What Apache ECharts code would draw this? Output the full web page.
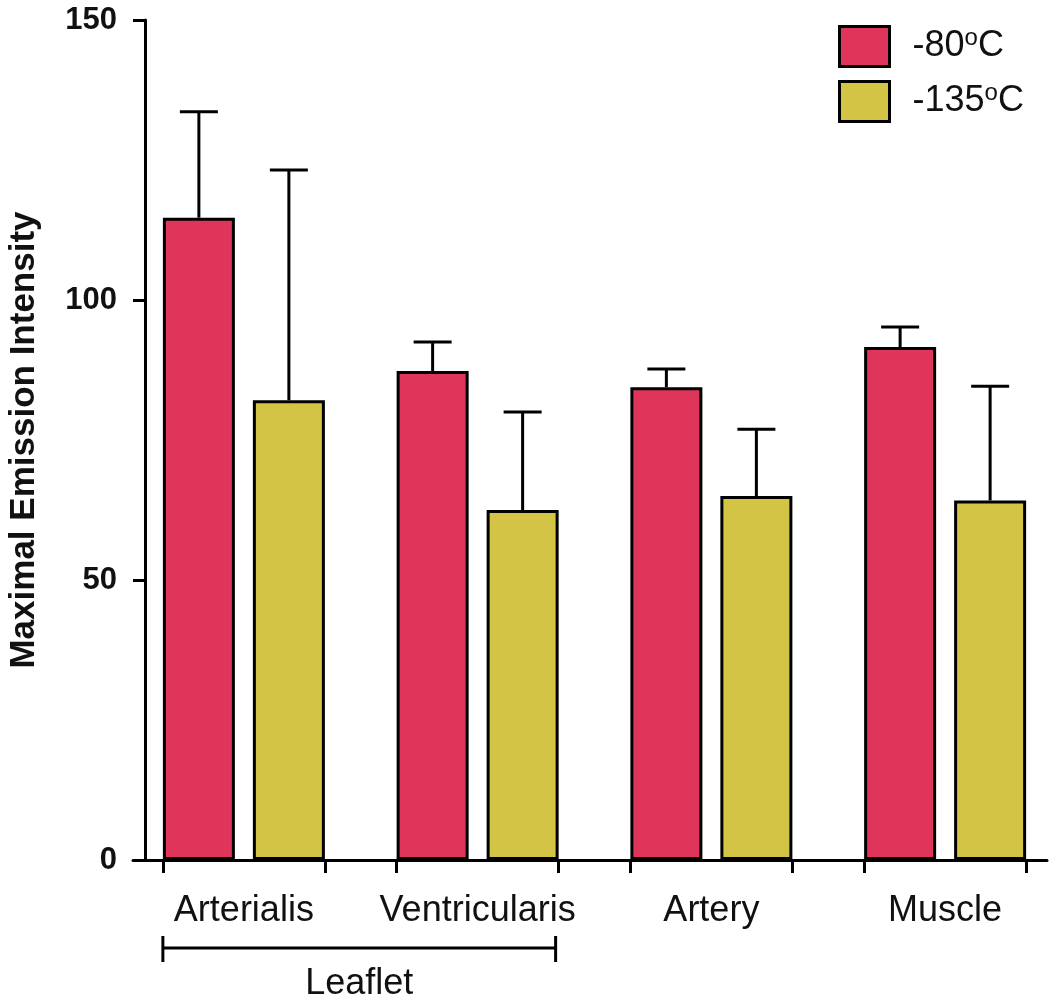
<!DOCTYPE html>
<html>
<head>
<meta charset="utf-8">
<script src="https://cdn.jsdelivr.net/npm/echarts@6/dist/echarts.min.js"></script>
<style>
  html, body { margin: 0; padding: 0; background: #fff; }
  #chart { width: 1050px; height: 1003px; }
</style>
</head>
<body>
<div id="chart"></div>
<script>
// tissue groups on the x axis
const categories = ['Arterialis', 'Ventricularis', 'Artery', 'Muscle']
// -80 C: bar height and top of the error bar
const mean80 = [114.7, 87.3, 84.4, 91.6]
const top80 = [133.6, 92.5, 87.7, 95.2]
// -135 C
const mean135 = [82.1, 62.5, 65.0, 64.2]
const top135 = [123.2, 80.0, 76.9, 84.6]
const yTicks = [0, 50, 100, 150]

const RED = '#e0355b'
const YELLOW = '#d4c445'
const FONT = 'Liberation Sans, Arial, sans-serif'
const BAR_W = 72
const BAR_GAP = 18

var myChart = echarts.init(document.getElementById('chart'))

// error bar drawn above the bar, shifted left/right of the category centre
function errorRender(shift) {
  return function (params, api) {
    const base = api.coord([api.value(0), api.value(1)])
    const top = api.coord([api.value(0), api.value(2)])
    const x = base[0] + shift
    return {
      type: 'group',
      children: [
        { type: 'line', shape: { x1: x, y1: base[1], x2: x, y2: top[1] }, style: { stroke: '#000', lineWidth: 3 } },
        { type: 'line', shape: { x1: x - 19, y1: top[1], x2: x + 19, y2: top[1] }, style: { stroke: '#000', lineWidth: 3 } }
      ]
    }
  }
}

const pairHalf = BAR_W + BAR_GAP / 2
const barGridLeft = 127
const barGridWidth = 935
const bandPx = barGridWidth / categories.length
const tickValues = []
categories.forEach(function (c, i) {
  tickValues.push(i + 0.5 - pairHalf / bandPx, i + 0.5 + pairHalf / bandPx)
})

function legendText(name) {
  const parts = name.split('°')
  return '{t|' + parts[0] + '}{s|o}{t|' + parts[1] + '}'
}

var option = {
  animation: false,
  textStyle: { fontFamily: FONT },
  legend: {
    orient: 'vertical',
    left: 838,
    top: 25,
    padding: 0,
    itemWidth: 50,
    itemHeight: 40,
    itemGap: 12,
    icon: 'rect',
    data: ['-80°C', '-135°C'],
    formatter: legendText,
    itemStyle: { borderColor: '#000', borderWidth: 3 },
    textStyle: {
      color: '#111',
      padding: [0, 0, 0, 18],
      rich: {
        t: { fontSize: 36, fontFamily: FONT, color: '#111', lineHeight: 40 },
        s: { fontSize: 24, fontFamily: FONT, color: '#111', verticalAlign: 'top', lineHeight: 22 }
      }
    }
  },
  grid: [
    { left: barGridLeft, width: barGridWidth, top: 20, bottom: 143, outerBoundsMode: 'none' },
    { left: 133, right: 3, top: 20, bottom: 143, outerBoundsMode: 'none' }
  ],
  xAxis: [
    {
      type: 'category',
      gridIndex: 0,
      data: categories,
      axisLine: { show: false },
      axisTick: { show: false },
      axisLabel: { interval: 0, fontSize: 36, color: '#111', margin: 33, fontFamily: FONT }
    },
    {
      type: 'value',
      gridIndex: 0,
      min: 0,
      max: categories.length,
      position: 'bottom',
      axisLine: { show: false },
      axisLabel: { show: false },
      splitLine: { show: false },
      axisTick: {
        show: true,
        inside: false,
        length: 13,
        customValues: tickValues,
        lineStyle: { color: '#000', width: 3 }
      }
    },
    {
      type: 'value',
      gridIndex: 1,
      min: 0,
      max: 1,
      axisLine: { show: true, lineStyle: { color: '#000', width: 3 } },
      axisTick: { show: false },
      axisLabel: { show: false },
      splitLine: { show: false }
    }
  ],
  yAxis: [
    {
      type: 'value',
      gridIndex: 0,
      min: 0,
      max: 150,
      show: false
    },
    {
      type: 'value',
      gridIndex: 1,
      min: 0,
      max: 150,
      interval: 50,
      offset: -12,
      name: 'Maximal Emission Intensity',
      nameLocation: 'middle',
      nameGap: 103,
      nameRotate: 90,
      nameTextStyle: { fontSize: 35, fontWeight: 'bold', color: '#111', fontFamily: FONT },
      axisLine: { show: true, lineStyle: { color: '#000', width: 3 } },
      axisTick: { show: true, length: 12, lineStyle: { color: '#000', width: 3 } },
      axisLabel: {
        fontSize: 31, fontWeight: 'bold', color: '#111', margin: 28, fontFamily: FONT,
        customValues: yTicks
      },
      splitLine: { show: false }
    }
  ],
  series: [
    {
      name: '-80°C',
      type: 'bar',
      xAxisIndex: 0,
      yAxisIndex: 0,
      barWidth: BAR_W,
      barGap: (BAR_GAP / BAR_W * 100) + '%',
      itemStyle: { color: RED, borderColor: '#000', borderWidth: 3 },
      data: mean80
    },
    {
      name: '-135°C',
      type: 'bar',
      xAxisIndex: 0,
      yAxisIndex: 0,
      barWidth: BAR_W,
      itemStyle: { color: YELLOW, borderColor: '#000', borderWidth: 3 },
      data: mean135
    },
    {
      name: 'err80',
      type: 'custom',
      xAxisIndex: 0,
      yAxisIndex: 0,
      z: 1,
      renderItem: errorRender(-(BAR_W + BAR_GAP) / 2),
      data: categories.map(function (c, i) { return [i, mean80[i], top80[i]] })
    },
    {
      name: 'err135',
      type: 'custom',
      xAxisIndex: 0,
      yAxisIndex: 0,
      z: 1,
      renderItem: errorRender((BAR_W + BAR_GAP) / 2),
      data: categories.map(function (c, i) { return [i, mean135[i], top135[i]] })
    }
  ]
}

option && myChart.setOption(option)

// "Leaflet" bracket under the first two groups
const left = myChart.convertToPixel({ xAxisIndex: 1 }, tickValues[0])
const right = myChart.convertToPixel({ xAxisIndex: 1 }, tickValues[3]) - 3
myChart.setOption({
  graphic: [
    { type: 'line', shape: { x1: left, y1: 948, x2: right, y2: 948 }, style: { stroke: '#000', lineWidth: 3 } },
    { type: 'line', shape: { x1: left, y1: 936, x2: left, y2: 962 }, style: { stroke: '#000', lineWidth: 3 } },
    { type: 'line', shape: { x1: right, y1: 936, x2: right, y2: 962 }, style: { stroke: '#000', lineWidth: 3 } },
    {
      type: 'text', x: (left + right) / 2, y: 984,
      style: { text: 'Leaflet', fontSize: 36, fontFamily: FONT, fill: '#111', align: 'center', verticalAlign: 'middle' }
    }
  ]
})
</script>
</body>
</html>
